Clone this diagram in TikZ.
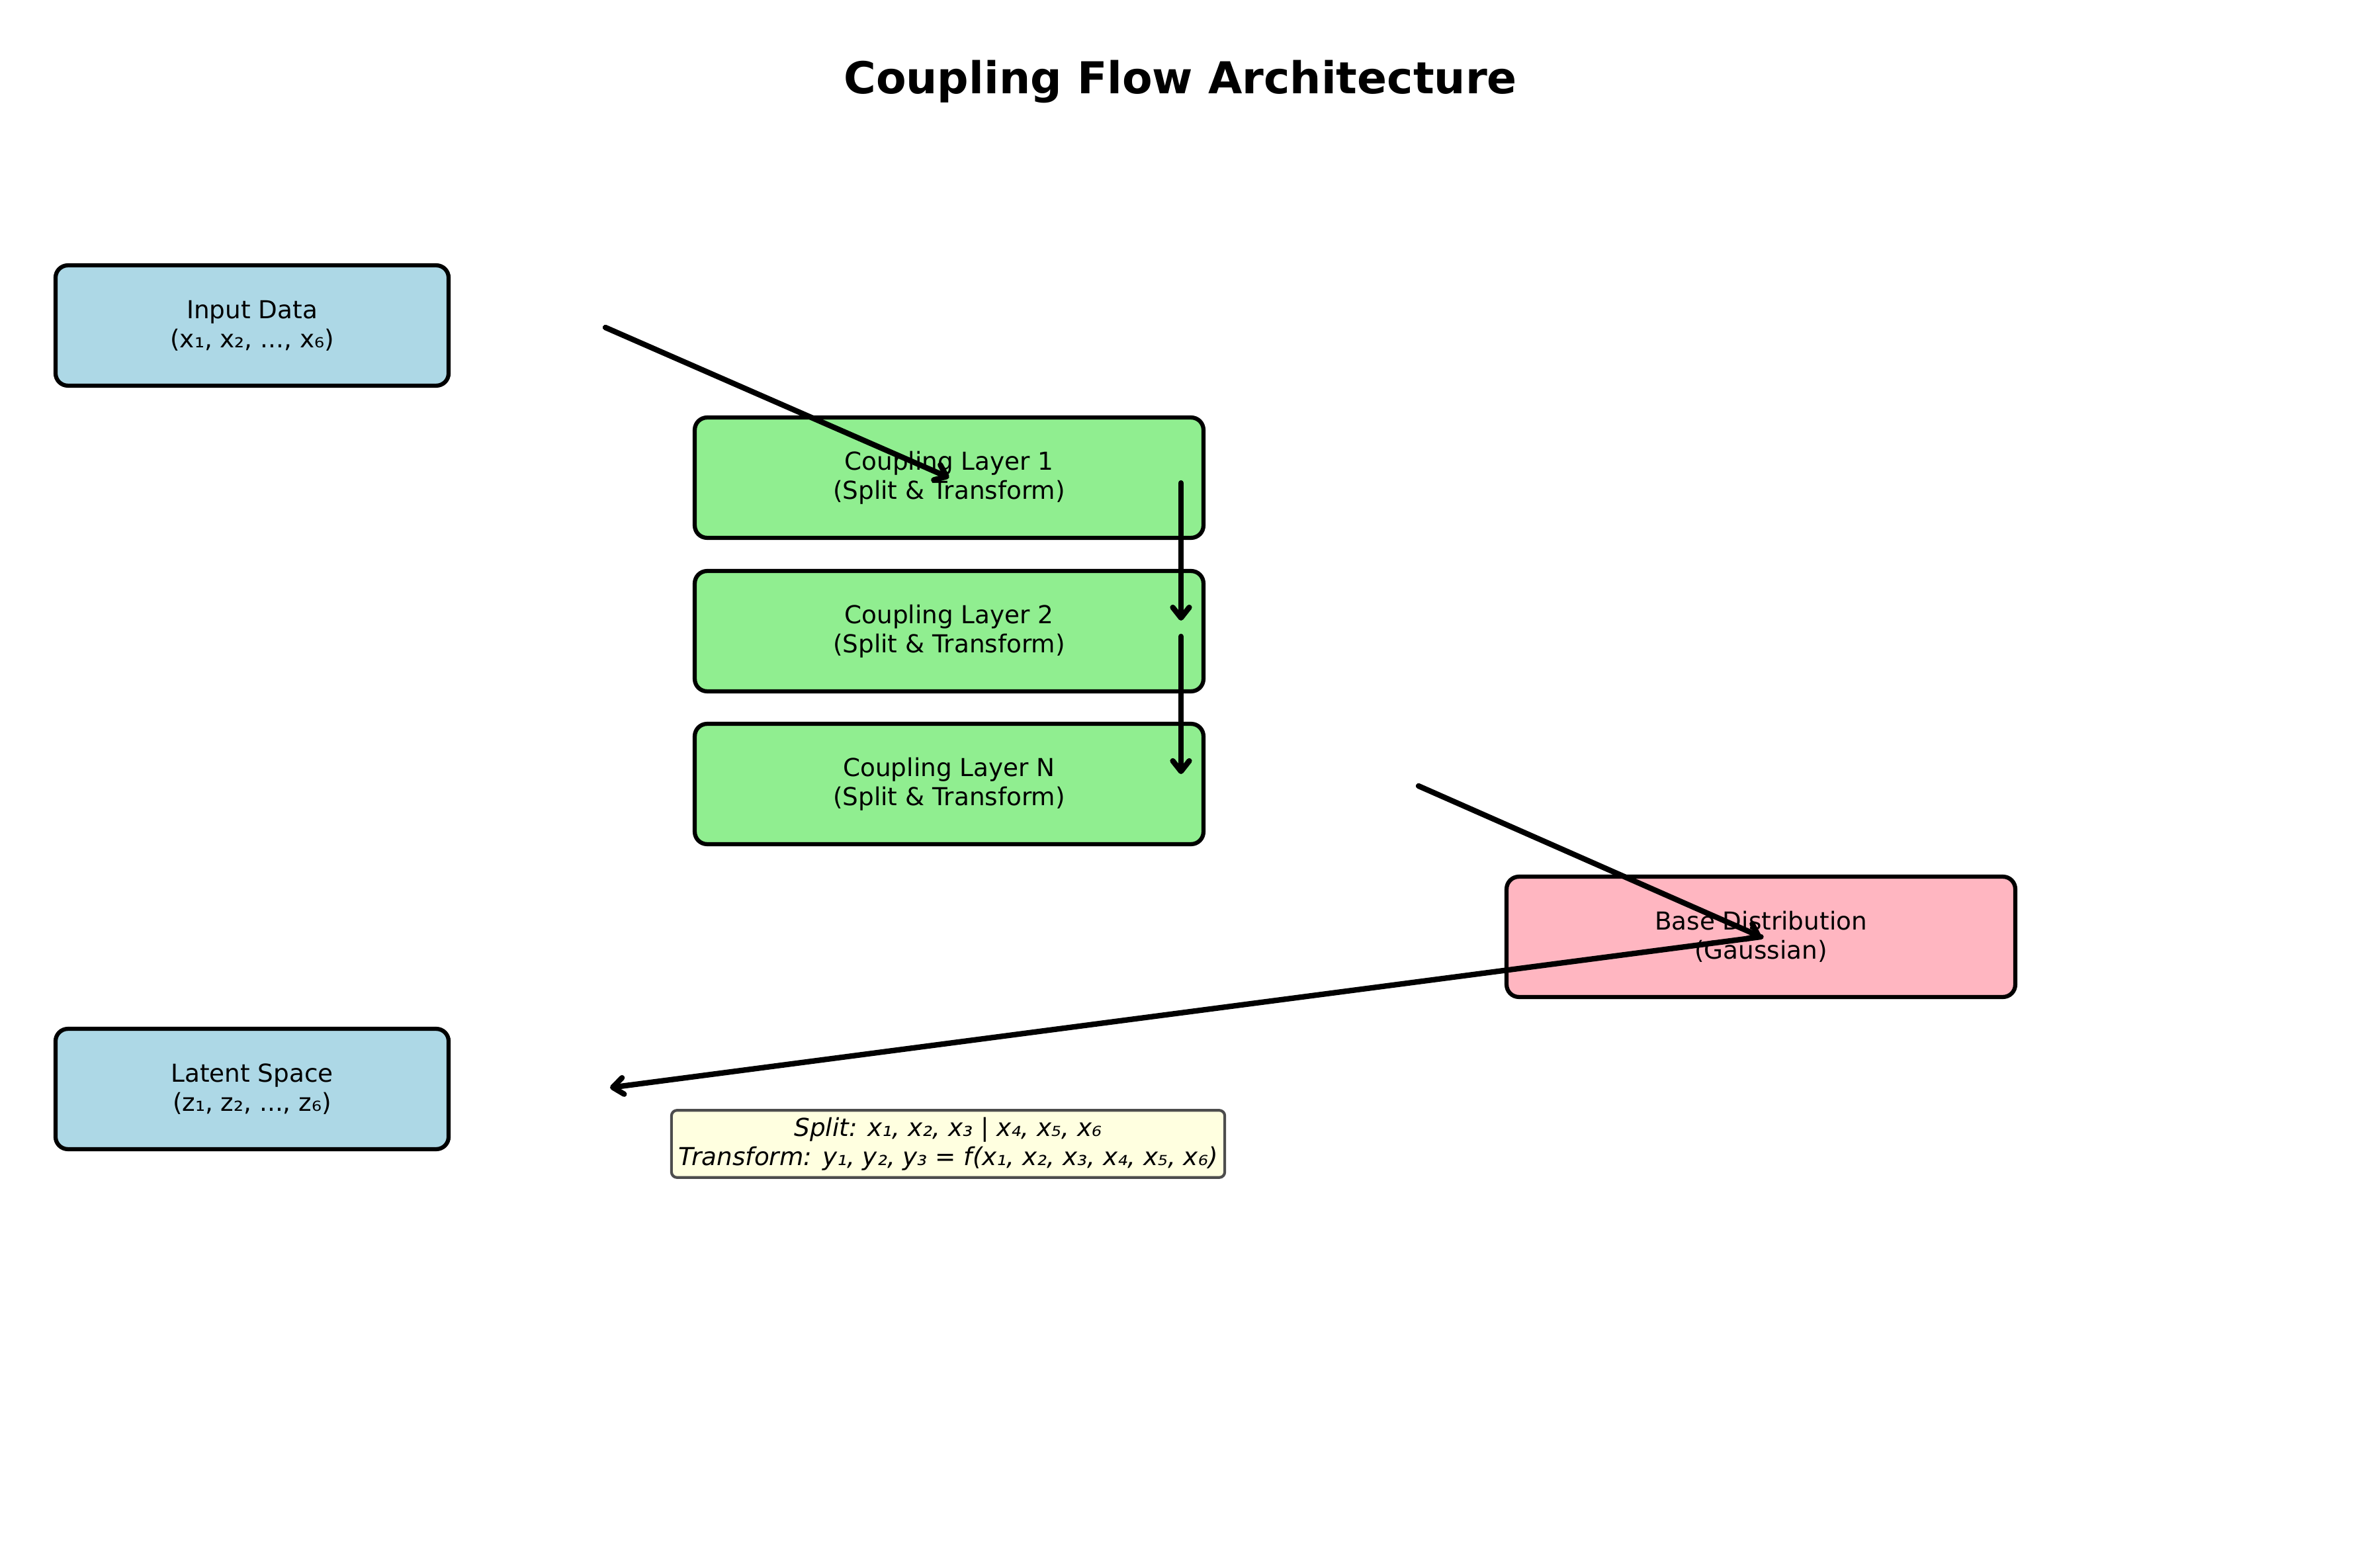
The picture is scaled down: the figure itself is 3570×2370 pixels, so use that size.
\documentclass[tikz,border=0pt]{standalone}
\usepackage{fontspec}
\setmainfont{DejaVu Sans}
\usetikzlibrary{arrows.meta}
\definecolor{inblue}{HTML}{ADD8E6}
\definecolor{layergreen}{HTML}{90EE90}
\definecolor{basepink}{HTML}{FFB6C1}
\definecolor{noteyellow}{HTML}{FFFFE0}
\definecolor{notegray}{HTML}{4D4D4D}
\tikzset{
	box/.style={draw, line width=1.5pt, rounded corners=4.5pt, minimum height=15.4mm,
		align=center, font=\fontsize{9}{10.6}\selectfont},
	databox/.style={box, fill=inblue, minimum width=50.3mm},
	layerbox/.style={box, fill=layergreen, minimum width=65.1mm},
	basebox/.style={box, fill=basepink, minimum width=65.1mm},
	notebox/.style={draw=notegray, line width=1pt, rounded corners=2pt, fill=noteyellow,
		minimum width=70.8mm, minimum height=8.6mm, inner sep=1pt, align=center,
		font=\fontsize{9}{10.6}\selectfont\itshape},
	flow/.style={->, line width=2pt, line cap=round},
	>={Straight Barb[length=3.8pt, width=6pt, line cap=round, line join=round]}
}

\begin{document}
\begin{tikzpicture}[x=0.084667mm, y=-0.084667mm]
	% canvas 3570 x 2370 px at 300 dpi
	\useasboundingbox (0,0) rectangle (3570,2370);

	\node[font=\fontsize{16}{19}\selectfont\bfseries] (title) at (1784,123) {Coupling Flow Architecture};

	% data side
	\node[databox] (input) at (381,492) {Input Data\\(x₁, x₂, ..., x₆)};
	\node[databox] (latent) at (381,1646) {Latent Space\\(z₁, z₂, ..., z₆)};

	% coupling layers
	\node[layerbox] (cl1) at (1434.5,722) {Coupling Layer 1\\(Split \& Transform)};
	\node[layerbox] (cl2) at (1434.5,954) {Coupling Layer 2\\(Split \& Transform)};
	\node[layerbox] (cln) at (1434.5,1185) {Coupling Layer N\\(Split \& Transform)};

	\node[basebox] (base) at (2661.5,1416) {Base Distribution\\(Gaussian)};

	\node[notebox] (note) at (1433,1729) {Split: x₁, x₂, x₃ | x₄, x₅, x₆\\Transform: y₁, y₂, y₃ = f(x₁, x₂, x₃, x₄, x₅, x₆)};

	% free arrow ends
	\coordinate (inout) at (915,495);
	\coordinate (c1s) at (1785,730);
	\coordinate (c1e) at (1785,938);
	\coordinate (c2s) at (1785,962);
	\coordinate (c2e) at (1785,1170);
	\coordinate (cnout) at (2144,1188);
	\coordinate (latin) at (922,1644);

	\draw[flow] (inout) -- (cl1.center);
	\draw[flow] (c1s) -- (c1e);
	\draw[flow] (c2s) -- (c2e);
	\draw[flow] (cnout) -- (base.center);
	\draw[flow] (base.center) -- (latin);
\end{tikzpicture}
\end{document}
